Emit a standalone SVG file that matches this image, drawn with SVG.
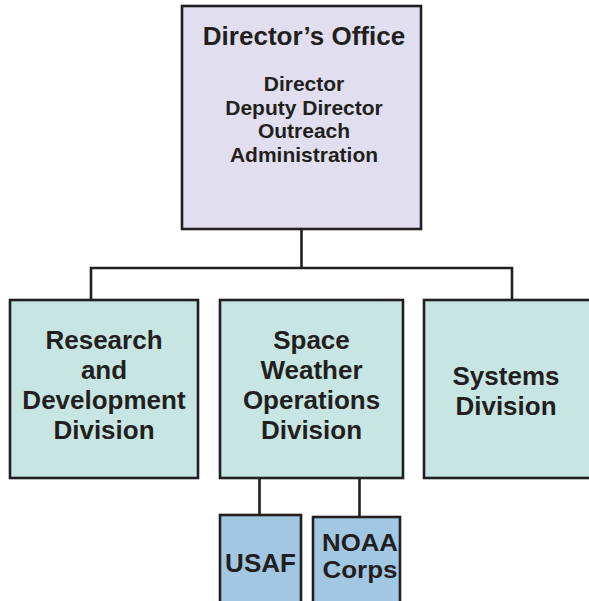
<svg xmlns="http://www.w3.org/2000/svg" width="589" height="601" viewBox="0 0 589 601">
  <style>
    .box { stroke: #231f20; stroke-width: 2.6; }
    .office { fill: #e1dfef; }
    .division { fill: #c7e6e3; }
    .unit { fill: #a2c7e3; }
    .wire { fill: none; stroke: #231f20; stroke-width: 2.6; }
    text { font-family: "Liberation Sans", Arial, Helvetica, sans-serif; font-weight: bold; fill: #231f20; text-anchor: middle; }
    .big { font-size: 26px; }
    .small { font-size: 21px; }
    .tight { font-size: 23px; }
  </style>
  <rect width="589" height="601" fill="#ffffff"/>

  <!-- connectors -->
  <g id="connectors">
    <path class="wire" d="M301.5 229 V268 M91 300 V268 H512 V300"/>
    <path class="wire" d="M259.5 478 V515 M359.5 478 V517"/>
  </g>

  <g id="directors-office">
    <rect class="box office" x="182" y="6" width="239" height="223"/>
    <text class="big" x="304" y="45">Director’s Office</text>
    <text class="small" x="304" y="91">Director</text>
    <text class="small" x="304" y="115">Deputy Director</text>
    <text class="small" x="304" y="138">Outreach</text>
    <text class="small" x="304" y="162">Administration</text>
  </g>

  <g id="research-development">
    <rect class="box division" x="10" y="300" width="188" height="178"/>
    <text class="big" x="104" y="349">Research</text>
    <text class="big" x="104" y="379">and</text>
    <text class="big" x="104" y="409">Development</text>
    <text class="big" x="104" y="439">Division</text>
  </g>

  <g id="space-weather-operations">
    <rect class="box division" x="220" y="300" width="183" height="178"/>
    <text class="big" x="311.5" y="349">Space</text>
    <text class="big" x="311.5" y="379">Weather</text>
    <text class="big" x="311.5" y="409">Operations</text>
    <text class="big" x="311.5" y="439">Division</text>
  </g>

  <g id="systems">
    <rect class="box division" x="424" y="300" width="170" height="178"/>
    <text class="big" x="506" y="385">Systems</text>
    <text class="big" x="506" y="415">Division</text>
  </g>

  <g id="usaf">
    <rect class="box unit" x="220" y="515" width="81" height="92"/>
    <text class="big" x="260.5" y="572">USAF</text>
  </g>

  <g id="noaa-corps">
    <rect class="box unit" x="313" y="517" width="87" height="90"/>
    <text class="tight" x="360" y="551" textLength="76" lengthAdjust="spacingAndGlyphs">NOAA</text>
    <text class="tight" x="360" y="578" textLength="75" lengthAdjust="spacingAndGlyphs">Corps</text>
  </g>
</svg>
